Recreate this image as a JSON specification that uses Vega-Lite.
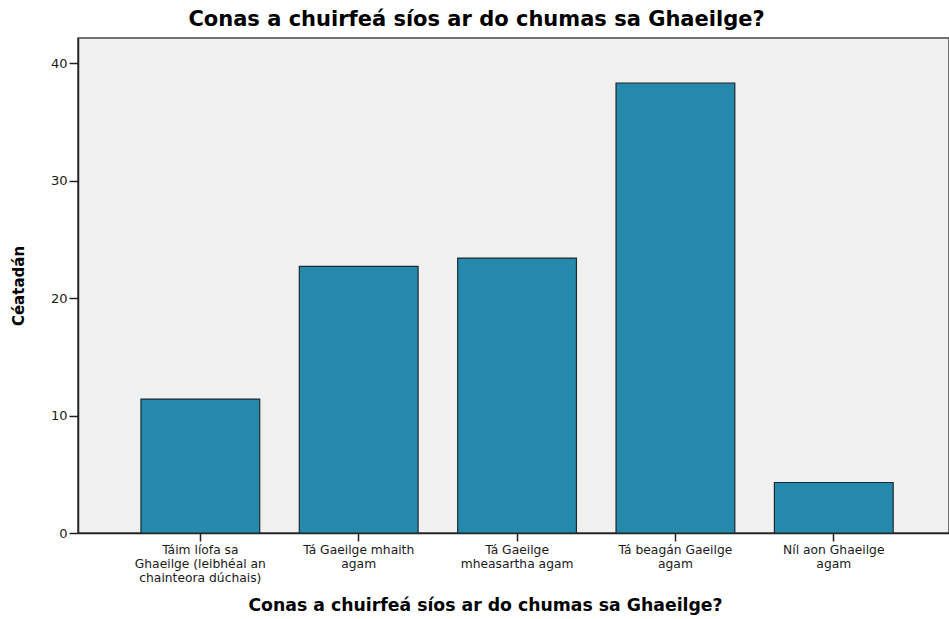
{
  "$schema": "https://vega.github.io/schema/vega-lite/v6.json",
  "width": 871,
  "height": 495,
  "autosize": "none",
  "padding": {"left": 78, "top": 38, "right": 0, "bottom": 86},
  "background": "white",
  "title": {
    "text": "Conas a chuirfeá síos ar do chumas sa Ghaeilge?",
    "font": "DejaVu Sans",
    "fontSize": 21,
    "fontWeight": "bold",
    "color": "#000000",
    "anchor": "middle",
    "dx": -37,
    "offset": 8
  },
  "config": {
    "view": {"fill": "#F0F0F0", "stroke": "#444444", "strokeWidth": 1.5},
    "axis": {
      "labelFont": "DejaVu Sans",
      "titleFont": "DejaVu Sans",
      "labelColor": "#1a1a1a",
      "tickColor": "#222222",
      "domainColor": "#222222",
      "grid": false
    }
  },
  "data": {
    "values": [
      {"cat": "Táim líofa sa Ghaeilge (leibhéal an chainteora dúchais)", "pct": 11.4},
      {"cat": "Tá Gaeilge mhaith agam", "pct": 22.7},
      {"cat": "Tá Gaeilge mheasartha agam", "pct": 23.4},
      {"cat": "Tá beagán Gaeilge agam", "pct": 38.3},
      {"cat": "Níl aon Ghaeilge agam", "pct": 4.3}
    ]
  },
  "mark": {"type": "bar", "color": "#2489AA", "stroke": "#1c2a30", "strokeWidth": 1.2},
  "encoding": {
    "x": {
      "field": "cat",
      "type": "nominal",
      "sort": null,
      "scale": {"paddingInner": 0.25, "paddingOuter": 0.375, "align": 0.53},
      "axis": {
        "title": "Conas a chuirfeá síos ar do chumas sa Ghaeilge?",
        "titleFontSize": 17.3,
        "titleFontWeight": "bold",
        "titleColor": "#000000",
        "titlePadding": 13,
        "titleX": 407,
        "labelAngle": 0,
        "labelFontSize": 12.3,
        "labelLineHeight": 14,
        "labelPadding": 2,
        "tickSize": 8,
        "tickWidth": 1.5,
        "domainWidth": 1.5,
        "labelExpr": "datum.value == 'Táim líofa sa Ghaeilge (leibhéal an chainteora dúchais)' ? ['Táim líofa sa', 'Ghaeilge (leibhéal an', 'chainteora dúchais)'] : datum.value == 'Tá Gaeilge mhaith agam' ? ['Tá Gaeilge mhaith', 'agam'] : datum.value == 'Tá Gaeilge mheasartha agam' ? ['Tá Gaeilge', 'mheasartha agam'] : datum.value == 'Tá beagán Gaeilge agam' ? ['Tá beagán Gaeilge', 'agam'] : ['Níl aon Ghaeilge', 'agam']"
      }
    },
    "y": {
      "field": "pct",
      "type": "quantitative",
      "scale": {"domain": [0, 42.13], "nice": false},
      "axis": {
        "title": "Céatadán",
        "titleFontSize": 15,
        "titleFontWeight": "bold",
        "titleColor": "#000000",
        "titlePadding": 24,
        "values": [0, 10, 20, 30, 40],
        "labelFontSize": 13,
        "labelPadding": 2,
        "tickSize": 9,
        "tickWidth": 1.5,
        "domainWidth": 1.5
      }
    }
  }
}
